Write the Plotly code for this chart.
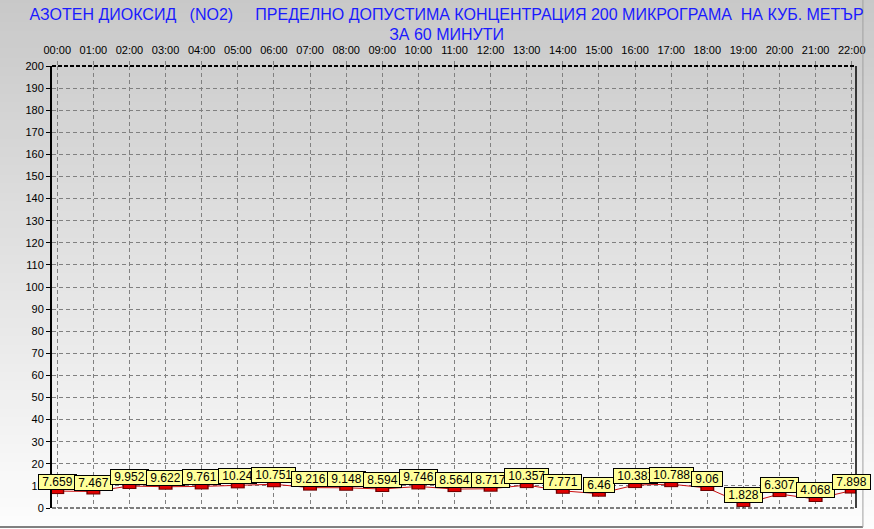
import plotly.graph_objects as go

hours = ["00:00", "01:00", "02:00", "03:00", "04:00", "05:00", "06:00", "07:00",
         "08:00", "09:00", "10:00", "11:00", "12:00", "13:00", "14:00", "15:00",
         "16:00", "17:00", "18:00", "19:00", "20:00", "21:00", "22:00"]
values = [7.659, 7.467, 9.952, 9.622, 9.761, 10.24, 10.751, 9.216, 9.148, 8.594,
          9.746, 8.564, 8.717, 10.357, 7.771, 6.46, 10.381, 10.788, 9.06, 1.828,
          6.307, 4.068, 7.898]
labels = ["7.659", "7.467", "9.952", "9.622", "9.761", "10.24", "10.751", "9.216",
          "9.148", "8.594", "9.746", "8.564", "8.717", "10.357", "7.771", "6.46",
          "10.381", "10.788", "9.06", "1.828", "6.307", "4.068", "7.898"]
y_ticks = list(range(0, 201, 10))

NB = "\u00a0"
title_line1 = ("АЗОТЕН ДИОКСИД" + NB * 3 + "(NO2)" + NB * 5 +
               "ПРЕДЕЛНО ДОПУСТИМА КОНЦЕНТРАЦИЯ 200 МИКРОГРАМА" + NB * 2 + "НА КУБ. МЕТЪР")
title_line2 = "ЗА 60 МИНУТИ"

xs = list(range(len(hours)))
FONT = "Arial, Liberation Sans, sans-serif"

fig = go.Figure()
fig.add_trace(go.Scatter(x=xs, y=values, mode="lines",
                         line=dict(color="#cc1010", width=1), hoverinfo="skip"))
fig.add_trace(go.Scatter(x=xs, y=values, mode="markers",
                         marker=dict(symbol="line-ew", size=10, color="#700000",
                                     line=dict(width=6, color="#700000")),
                         hoverinfo="skip"))
fig.add_trace(go.Scatter(x=xs, y=values, mode="markers",
                         marker=dict(symbol="line-ew", size=8, color="#e00000",
                                     line=dict(width=4, color="#e00000")),
                         hoverinfo="skip"))

annotations = []
for x, v, t in zip(xs, values, labels):
    annotations.append(dict(x=x, y=v, xref="x", yref="y", text=NB + t + NB,
                            showarrow=False, yshift=9, bgcolor="#ffff99",
                            bordercolor="#000000", borderwidth=1, borderpad=0,
                            font=dict(family=FONT, size=12, color="#000")))

# gradient background bands
shapes = []
n = 60
top_c, bot_c = 200, 253
for i in range(n):
    f = i / (n - 1)
    c = int(round(top_c + (bot_c - top_c) * f))
    y1 = 1 - i / n
    y0 = 1 - (i + 1) / n
    shapes.append(dict(type="rect", xref="paper", yref="paper", x0=-0.1, x1=1.1,
                       y0=-0.06 + (y0 - 0.001) * 1.22, y1=-0.06 + (y1 + 0.001) * 1.22,
                       layer="below", line=dict(width=0),
                       fillcolor=f"rgb({c},{c},{c})"))

fig.update_layout(
    width=874, height=529,
    margin=dict(l=52, r=9, t=66, b=21),
    paper_bgcolor="#e2e2e2",
    plot_bgcolor="rgba(0,0,0,0)",
    showlegend=False,
    title=dict(text=title_line1 + "<br>" + title_line2, x=0.511, xanchor="center",
               y=0.963, yanchor="top", yref="container",
               font=dict(family=FONT, size=16, color="#1a1aff")),
    annotations=annotations,
    shapes=shapes,
    xaxis=dict(range=[-0.145, 22.118], side="top", tickmode="array", tickvals=xs,
               ticktext=hours, showgrid=True, gridcolor="#808080", griddash="4px,3px",
               gridwidth=1, zeroline=False, showline=False,
               tickfont=dict(family=FONT, size=11, color="#000"),
               ticks="outside", ticklen=4, tickcolor="#808080", ticklabelstandoff=3,
               ticklabeloverflow="allow", fixedrange=True),
    yaxis=dict(range=[0, 200], tickmode="array", tickvals=y_ticks,
               showgrid=True, gridcolor="#808080", griddash="4px,3px", gridwidth=1,
               zeroline=False, showline=True, linecolor="#000", linewidth=2,
               ticks="outside", ticklen=4, tickcolor="#000", tickwidth=1,
               tickfont=dict(family=FONT, size=11, color="#000"),
               fixedrange=True),
)

# plot area border lines (top/bottom dashed, right solid) and outer frame
fig.add_shape(type="line", xref="paper", yref="paper", x0=0, x1=1, y0=1, y1=1,
              line=dict(color="#000", width=2, dash="4px,2px"))
fig.add_shape(type="line", xref="paper", yref="paper", x0=0, x1=1, y0=0, y1=0,
              line=dict(color="#000", width=1, dash="4px,2px"))
fig.add_shape(type="line", xref="paper", yref="paper", x0=1, x1=1, y0=0, y1=1,
              line=dict(color="#000", width=1.5))
fig.add_shape(type="line", xref="paper", yref="paper", x0=-0.07, x1=1.0086,
              y0=-0.043, y1=-0.043, line=dict(color="#808080", width=2))
fig.add_shape(type="line", xref="paper", yref="paper", x0=1.0086, x1=1.0086,
              y0=-0.043, y1=1.16, line=dict(color="#a0a0a0", width=1))

fig.write_html("out.html", config={"displayModeBar": False},
               post_script="document.body.style.margin='0';")
